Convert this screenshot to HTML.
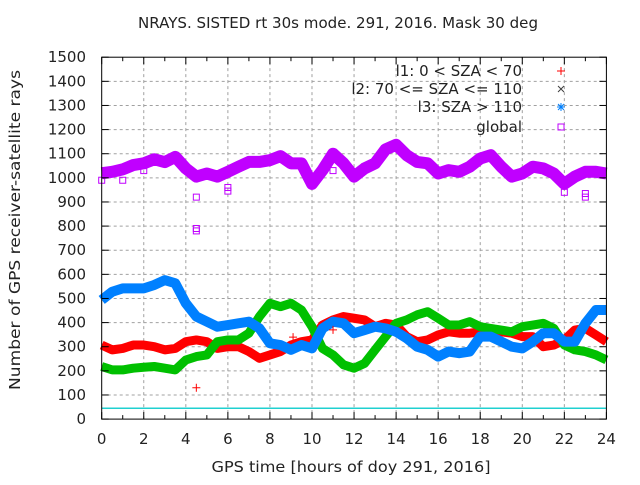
<!DOCTYPE html>
<html><head><meta charset="utf-8"><style>
body{margin:0;background:#fff;}
svg text{font-family:"DejaVu Sans","Liberation Sans",sans-serif;font-size:15px;fill:#222;}
</style></head><body>
<svg id="chart" width="640" height="480" xmlns="http://www.w3.org/2000/svg">
<rect width="640" height="480" fill="#fff"/>
<text x="338" y="28" text-anchor="middle" textLength="400" lengthAdjust="spacingAndGlyphs">NRAYS. SISTED rt 30s mode. 291, 2016. Mask 30 deg</text>
<text x="351" y="472" text-anchor="middle" textLength="279" lengthAdjust="spacingAndGlyphs">GPS time [hours of doy 291, 2016]</text>
<text transform="translate(20,230) rotate(-90)" text-anchor="middle" textLength="320" lengthAdjust="spacingAndGlyphs">Number of GPS receiver-satellite rays</text>
<g id="grid"></g><g id="series"></g><g id="axes"></g><g id="legend"></g>
</svg>
<script>
const hours=[0,0.5,1,1.5,2,2.5,3,3.5,4,4.5,5,5.5,6,6.5,7,7.5,8,8.5,9,9.5,10,10.5,11,11.5,12,12.5,13,13.5,14,14.5,15,15.5,16,16.5,17,17.5,18,18.5,19,19.5,20,20.5,21,21.5,22,22.5,23,23.5,24];
const globalVals=[1019,1025,1035,1053,1060,1077,1065,1087,1039,1005,1018,1005,1025,1046,1066,1066,1073,1090,1060,1060,975,1032,1100,1060,1005,1039,1060,1118,1137,1094,1066,1060,1018,1032,1025,1046,1080,1094,1046,1005,1018,1046,1039,1018,975,1005,1025,1025,1018];
const l3Vals=[494,528,542,542,542,556,576,563,480,425,404,383,390,397,404,376,314,307,287,307,293,376,404,397,356,369,383,376,362,335,300,287,259,280,273,280,342,342,321,300,293,321,356,356,321,321,397,452,452];
const l1Vals=[307,287,293,307,307,300,287,293,321,328,321,293,300,300,280,252,266,280,307,321,328,390,411,425,418,411,383,397,390,342,321,328,349,362,356,356,362,369,362,356,342,342,300,307,328,369,376,349,321];
const l2Vals=[218,204,204,211,215,218,211,204,245,259,266,321,328,328,356,425,480,466,480,452,383,293,266,225,211,231,287,342,397,411,432,445,418,390,390,404,383,376,369,362,383,390,397,376,307,287,280,266,245];
const globalOutH=[0,1,2,4.5,4.5,4.5,6,6,11,22,23,23];
const globalOutV=[990,990,1030,920,790,780,960,945,1030,940,935,920];
const l1OutH=[4.5,11,9.1];
const l1OutV=[130,370,340];
const baseH=[0,24];
const baseV=[45,45];
const xTicks=[0,2,4,6,8,10,12,14,16,18,20,22,24];
const yTicks=[0,100,200,300,400,500,600,700,800,900,1000,1100,1200,1300,1400,1500];
const legendLabels=["l1: 0 < SZA < 70","l2: 70 <= SZA <= 110","l3: SZA > 110","global"];

const X0=101.7,X1=606.4,Y0=419.1,Y1=57.2;
const xs=h=>X0+(h/24)*(X1-X0);
const ys=v=>Y0-(v/1500)*(Y0-Y1);
const NS="http://www.w3.org/2000/svg";
function mk(tag,attrs,parent){const e=document.createElementNS(NS,tag);for(const k in attrs)e.setAttribute(k,attrs[k]);parent.appendChild(e);return e;}
const grid=document.getElementById('grid'),series=document.getElementById('series'),axes=document.getElementById('axes'),legend=document.getElementById('legend');

xTicks.forEach(t=>{
 if(t>0&&t<24){const g=mk('line',{x1:xs(t),x2:xs(t),y1:Y0,y2:Y1,stroke:'#a0a0a0','stroke-dasharray':'3,3'},grid);
 
 }
 const l=mk('text',{x:xs(t),y:444,'text-anchor':'middle'},axes);l.textContent=t;
 
 
 mk('line',{x1:xs(t),x2:xs(t),y1:Y0,y2:Y0-7,stroke:'#000'},axes);
 mk('line',{x1:xs(t),x2:xs(t),y1:Y1,y2:Y1+7,stroke:'#000'},axes);
 if(t<24){mk('line',{x1:xs(t+1),x2:xs(t+1),y1:Y0,y2:Y0-4,stroke:'#000'},axes);mk('line',{x1:xs(t+1),x2:xs(t+1),y1:Y1,y2:Y1+4,stroke:'#000'},axes);}
});
yTicks.forEach(t=>{
 if(t>0&&t<1500){const g=mk('line',{x1:X0,x2:X1,y1:ys(t),y2:ys(t),stroke:'#a0a0a0','stroke-dasharray':'3,3'},grid);
 
 }
 const l=mk('text',{x:86,y:ys(t)+5,'text-anchor':'end'},axes);l.textContent=t;
 
 
 mk('line',{x1:X0,x2:X0+7,y1:ys(t),y2:ys(t),stroke:'#000'},axes);
 mk('line',{x1:X1,x2:X1-7,y1:ys(t),y2:ys(t),stroke:'#000'},axes);
});
const frame=mk('rect',{x:X0,y:Y1,width:X1-X0,height:Y0-Y1,fill:'none',stroke:'#000'},axes);



function band(h,v,color,w,name){
 const p=mk('polyline',{points:h.map((x,i)=>xs(x)+','+ys(v[i])).join(' '),fill:'none',stroke:color,'stroke-width':w,'stroke-linejoin':'round','stroke-linecap':'butt'},series);
 
 
}
const base=mk('polyline',{points:baseH.map((x,i)=>xs(x)+','+ys(baseV[i])).join(' '),fill:'none',stroke:'#20d0d0','stroke-width':1.5},series);


band(hours,globalVals,'#c000ff',12,'global-series');
band(hours,l1Vals,'#ff0000',9,'l1-series');
band(hours,l2Vals,'#00c000',9,'l2-series');
band(hours,l3Vals,'#0080ff',10,'l3-series');
globalOutH.forEach((h,i)=>{const r=mk('rect',{x:xs(h)-3,y:ys(globalOutV[i])-3,width:6,height:6,fill:'none',stroke:'#c000ff'},series);
 
 });
l1OutH.forEach((h,i)=>{const x=xs(h),y=ys(l1OutV[i]);const g=mk('path',{d:`M${x-4},${y}H${x+4}M${x},${y-4}V${y+4}`,stroke:'#ff0000'},series);
 
 });

const colors=['#ff0000','#404040','#0080ff','#c000ff'];
const lys=[71,89,107,127];
legendLabels.forEach((t,i)=>{
 const tx=mk('text',{x:522,y:lys[i]+5,'text-anchor':'end'},legend);tx.textContent=t;
 
 
 const x=561,y=lys[i];
 if(i==0)mk('path',{d:`M${x-4},${y}H${x+4}M${x},${y-4}V${y+4}`,stroke:colors[i]},legend);
 if(i==1)mk('path',{d:`M${x-3},${y-3}L${x+3},${y+3}M${x-3},${y+3}L${x+3},${y-3}`,stroke:colors[i]},legend);
 if(i==2)mk('path',{d:`M${x-4},${y}H${x+4}M${x},${y-4}V${y+4}M${x-3},${y-3}L${x+3},${y+3}M${x-3},${y+3}L${x+3},${y-3}`,stroke:colors[i]},legend);
 if(i==3)mk('rect',{x:x-3,y:y-3,width:6,height:6,fill:'none',stroke:colors[i]},legend);
});
</script>
</body></html>
